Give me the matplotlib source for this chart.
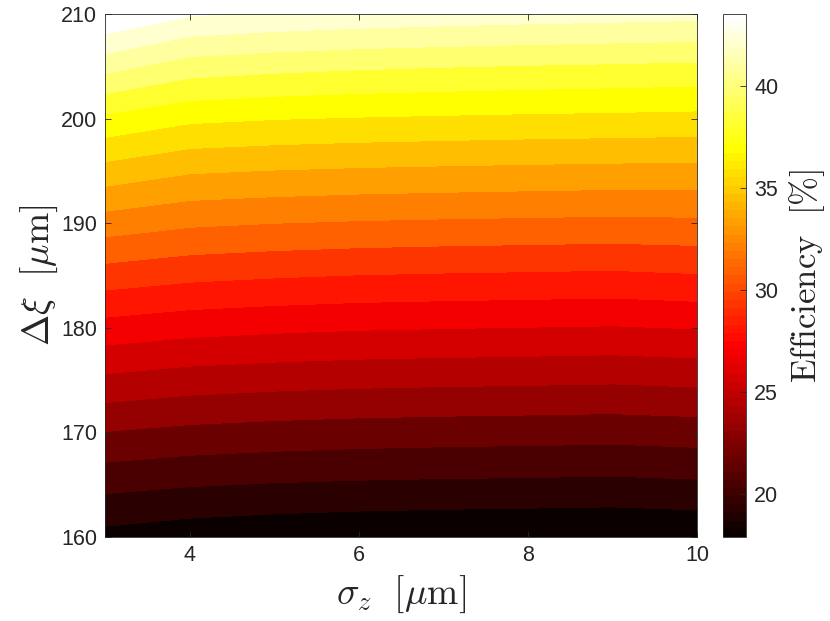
import numpy as np
import matplotlib
matplotlib.use('Agg')
import matplotlib.pyplot as plt
from matplotlib.colors import Normalize
from matplotlib.cm import ScalarMappable

plt.rcParams['mathtext.fontset'] = 'cm'
plt.rcParams['font.family'] = ['Liberation Sans', 'DejaVu Sans']

# sigma_z [um] (columns) and delta_xi [um] (rows)
sigma_z = [3, 4, 5, 6, 7, 8, 9, 10]
delta_xi = [160, 165, 170, 175, 180, 185, 190, 195, 200, 205, 210]

# Efficiency [%], one row per delta_xi value
eff_160 = [18.70, 18.37, 18.19, 18.07, 17.99, 17.94, 17.88, 18.02]
eff_165 = [20.66, 20.40, 20.25, 20.15, 20.09, 20.05, 20.00, 20.11]
eff_170 = [22.73, 22.44, 22.28, 22.17, 22.10, 22.05, 22.00, 22.12]
eff_175 = [24.94, 24.62, 24.45, 24.33, 24.26, 24.21, 24.15, 24.28]
eff_180 = [27.18, 26.85, 26.67, 26.54, 26.47, 26.41, 26.35, 26.49]
eff_185 = [29.54, 29.18, 28.99, 28.85, 28.77, 28.71, 28.65, 28.80]
eff_190 = [31.96, 31.51, 31.33, 31.21, 31.13, 31.07, 31.01, 31.07]
eff_195 = [34.53, 33.90, 33.73, 33.61, 33.53, 33.46, 33.40, 33.35]
eff_200 = [37.16, 36.46, 36.26, 36.14, 36.05, 35.97, 35.91, 35.84]
eff_205 = [40.32, 39.30, 39.03, 38.84, 38.71, 38.60, 38.51, 38.41]
eff_210 = [43.55, 42.45, 42.15, 41.95, 41.81, 41.69, 41.59, 41.49]

x_ticks = [4, 6, 8, 10]
y_ticks = [160, 170, 180, 190, 200, 210]
cbar_ticks = [20, 25, 30, 35, 40]

Z = np.array([eff_160, eff_165, eff_170, eff_175, eff_180, eff_185,
              eff_190, eff_195, eff_200, eff_205, eff_210])
zmin, zmax = Z.min(), Z.max()
n_lines = 20
levels = np.linspace(zmin, zmax, n_lines + 2)
hot64 = plt.get_cmap('hot', 64)
band_colors = [hot64(int(round(k / n_lines * 63))) for k in range(n_lines + 1)]

axc = '#262626'
fig = plt.figure(figsize=(8.3, 6.21), dpi=100)
ax = fig.add_axes([0.1271, 0.1353, 0.7127, 0.8422])
ax.contourf(sigma_z, delta_xi, Z, levels=levels, colors=band_colors)
ax.set_xlim(3, 10)
ax.set_ylim(160, 210)
ax.set_xticks(x_ticks)
ax.set_yticks(y_ticks)
ax.tick_params(direction='in', length=4, width=0.6, color=axc, labelcolor=axc,
               labelsize=15.5, top=True, right=True, pad=6)
for s in ax.spines.values():
    s.set_color(axc)
    s.set_linewidth(0.6)
ax.set_xlabel(r'$\sigma_z\ \ [\mu\mathrm{m}]$', fontsize=27, color=axc, labelpad=5)
ax.set_ylabel(r'$\Delta\xi\ \ [\mu\mathrm{m}]$', fontsize=27, color=axc, labelpad=1)

cax = fig.add_axes([0.8711, 0.1353, 0.0277, 0.8422])
sm = ScalarMappable(norm=Normalize(zmin, zmax), cmap=hot64)
cb = fig.colorbar(sm, cax=cax)
cb.set_ticks(cbar_ticks)
cb.ax.tick_params(direction='in', length=4, width=0.6, color=axc, labelcolor=axc,
                  labelsize=15.5, pad=6)
cb.outline.set_edgecolor(axc)
cb.outline.set_linewidth(0.6)
cb.set_label(r'$\mathrm{Efficiency}\ \ [\%]$', fontsize=25, color=axc, labelpad=6)

fig.savefig('out.png', dpi=100)
